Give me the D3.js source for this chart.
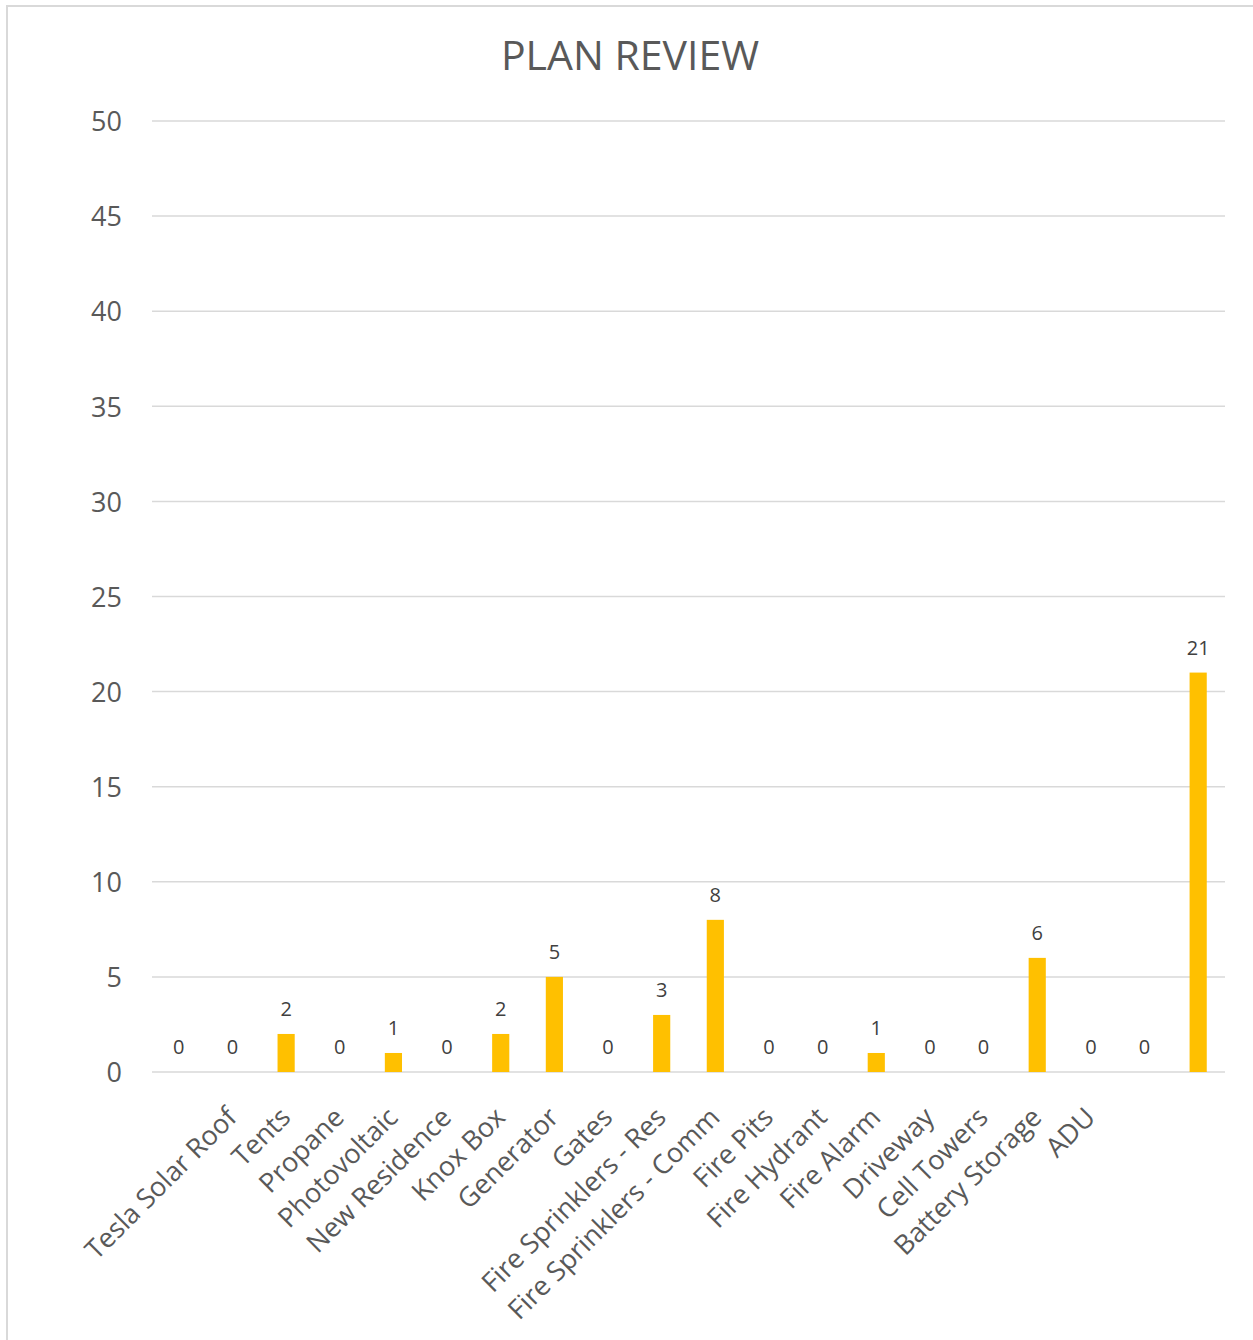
<!DOCTYPE html>
<html>
<head>
<meta charset="utf-8">
<script src="https://cdn.jsdelivr.net/npm/d3@7"></script>
<style>
	body { margin: 0; background: #fff; }
	text { font-family: "Open Sans", sans-serif; }
</style>
</head>
<body>
<svg id="chart"></svg>
<script>
// categories (first and last two slots carry no label in the original)
let categories = ["", "Tesla Solar Roof", "Tents", "Propane", "Photovoltaic", "New Residence", "Knox Box",
	"Generator", "Gates", "Fire Sprinklers - Res", "Fire Sprinklers - Comm", "Fire Pits", "Fire Hydrant",
	"Fire Alarm", "Driveway", "Cell Towers", "Battery Storage", "ADU", "", ""];
let values = [0, 0, 2, 0, 1, 0, 2, 5, 0, 3, 8, 0, 0, 1, 0, 0, 6, 0, 0, 21];
let yTicks = [0, 5, 10, 15, 20, 25, 30, 35, 40, 45, 50];
let title = "PLAN REVIEW";

function makeChart() {
	let w = 1253;
	let h = 1340;

	let marginT = 121;
	let marginL = 152;
	let marginR = 28;
	let marginB = 268;

	let chart = d3.select('#chart')
		.attr('width', w)
		.attr('height', h);

	// chart frame
	chart.append('rect')
		.attr('x', 7)
		.attr('y', 6)
		.attr('width', w + 20)
		.attr('height', h + 20)
		.attr('fill', 'none')
		.attr('stroke', '#d9d9d9')
		.attr('stroke-width', 2);

	let idx = d3.range(values.length);

	let xScale = d3.scaleBand()
		.domain(idx)
		.range([marginL, w - marginR])
		.paddingInner(0.68)
		.paddingOuter(0.34);

	let yScale = d3.scaleLinear()
		.domain([0, 50])
		.range([h - marginB, marginT]);

	// gridlines
	chart.append('g')
		.selectAll('line')
		.data(yTicks)
		.enter()
		.append('line')
		.attr('x1', marginL)
		.attr('x2', w - marginR)
		.attr('y1', d => yScale(d))
		.attr('y2', d => yScale(d))
		.attr('stroke', '#d9d9d9')
		.attr('stroke-width', 1.5);

	// y axis labels
	let yAxis = d3.axisLeft(yScale).tickValues(yTicks).tickSize(0).tickPadding(30);
	let yg = chart.append('g')
		.attr('transform', `translate(${marginL}, 0)`)
		.call(yAxis);
	yg.select('.domain').remove();
	yg.selectAll('text')
		.attr('fill', '#595959')
		.style('font-size', '27px')
		.attr('dy', '0.36em');

	// bars
	chart.append('g')
		.selectAll('rect')
		.data(idx)
		.enter()
		.append('rect')
		.attr('x', i => xScale(i))
		.attr('y', i => yScale(values[i]))
		.attr('width', xScale.bandwidth())
		.attr('height', i => yScale(0) - yScale(values[i]))
		.attr('fill', '#ffc000');

	// value labels
	chart.append('g')
		.selectAll('text')
		.data(idx)
		.enter()
		.append('text')
		.attr('x', i => xScale(i) + xScale.bandwidth() / 2)
		.attr('y', i => yScale(values[i]) - 18)
		.attr('text-anchor', 'middle')
		.attr('fill', '#404040')
		.style('font-size', '20px')
		.text(i => values[i]);

	// x axis category labels
	let xAxis = d3.axisBottom(xScale).tickSize(0).tickFormat(i => categories[i]);
	let xg = chart.append('g')
		.attr('transform', `translate(0, ${h - marginB})`)
		.call(xAxis);
	xg.select('.domain').remove();
	xg.selectAll('text')
		.attr('fill', '#595959')
		.style('font-size', '27px')
		.attr('text-anchor', 'end')
		.attr('y', 0)
		.attr('dy', 0)
		.attr('transform', 'translate(6, 47) rotate(-45)');

	// title
	chart.append('text')
		.attr('x', 630)
		.attr('y', 70)
		.attr('text-anchor', 'middle')
		.attr('fill', '#595959')
		.style('font-size', '41px')
		.text(title);
}

window.onload = function () {
	makeChart();
}
</script>
</body>
</html>
